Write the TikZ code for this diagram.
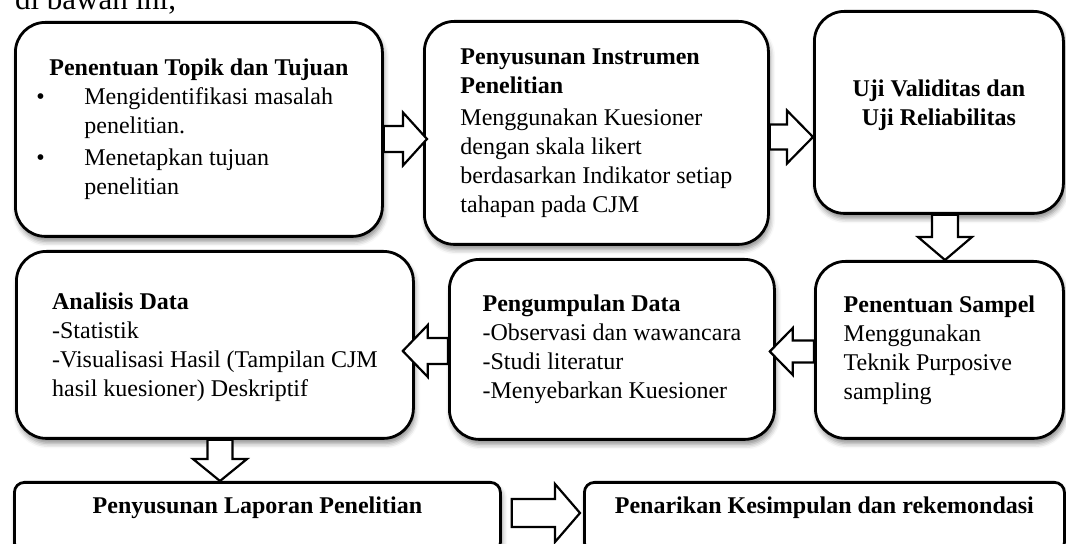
\documentclass[tikz,border=0pt]{standalone}
\usepackage{fontspec}
\setmainfont{Liberation Serif}
\usetikzlibrary{calc,shadows.blur}

\tikzset{
  box/.style={draw, line width=1.4pt, fill=white, rounded corners=15pt,
    anchor=north west, align=left, inner xsep=0pt,
    font=\fontsize{12}{14.5}\selectfont,
    blur shadow={shadow xshift=0.8pt, shadow yshift=-2.5pt,
      shadow blur radius=2.5pt, shadow opacity=45}},
  flatbox/.style={box, rounded corners=5pt},
  barrow/.style={draw, line width=1.1pt, fill=white, line join=miter},
}

% panah blok: dari, ke, setengah lebar batang, setengah lebar kepala, panjang kepala
\newcommand{\blockarrow}[5]{%
  \coordinate (hb) at ($(#2)!#5!(#1)$);
  \draw[barrow] ($(#1)!#3!90:(#2)$) -- ($(hb)!#3!90:(#2)$)
    -- ($(hb)!#4!90:(#2)$) -- (#2) -- ($(hb)!#4!-90:(#2)$)
    -- ($(hb)!#3!-90:(#2)$) -- ($(#1)!#3!-90:(#2)$) -- cycle;}

\begin{document}
\begin{tikzpicture}[x=0.5pt, y=-0.5pt]
  \useasboundingbox (0,0) rectangle (1066,544);
  \clip (0,0) rectangle (1066,544);

  \node[anchor=base west, font=\fontsize{15.5}{18}\selectfont] (intro) at (8,9.5) {di bawah ini,};

  % baris atas
  \node[box, minimum width=183.5pt, minimum height=107pt] (topik) at (14,21) {%
    \begin{tabular}{@{}p{24pt}@{}p{138.5pt}@{}}
      \multicolumn{2}{@{}c@{}}{\textbf{Penentuan Topik dan Tujuan}}\\
      \textbullet & Mengidentifikasi masalah\\
                  & penelitian.\\[1.5pt]
      \textbullet & Menetapkan tujuan\\
                  & penelitian
    \end{tabular}};
  \node[box, minimum width=172pt, minimum height=111.5pt] (instrumen) at (423,20) {%
    \textbf{Penyusunan Instrumen}\\ \textbf{Penelitian}\\[1.5pt]
    Menggunakan Kuesioner\\ dengan skala likert\\
    berdasarkan Indikator setiap\\ tahapan pada CJM};
  \node[box, align=center, minimum width=124.5pt, minimum height=101pt,
    text depth=9.75pt] (uji) at (813,10) {%
    \textbf{Uji Validitas dan}\\ \textbf{Uji Reliabilitas}};

  % baris tengah
  \node[box, minimum width=124pt, minimum height=88.5pt] (sampel) at (814,260) {%
    \textbf{Penentuan Sampel}\\ Menggunakan\\ Teknik Purposive\\ sampling};
  \node[box, minimum width=162.5pt, minimum height=90pt] (kumpul) at (448,258) {%
    \textbf{Pengumpulan Data}\\ -Observasi dan wawancara\\
    -Studi literatur\\ -Menyebarkan Kuesioner};
  \node[box, minimum width=198.5pt, minimum height=93.5pt, text depth=0pt] (analisis) at (15,250) {%
    \textbf{Analisis Data}\\ -Statistik\\
    -Visualisasi Hasil (Tampilan CJM\\ hasil kuesioner) Deskriptif};

  % baris bawah
  \node[flatbox, align=center, minimum width=243pt, minimum height=35pt,
    text depth=12pt] (laporan) at (13,481) {\textbf{Penyusunan Laporan Penelitian}};
  \node[flatbox, align=center, minimum width=240pt, minimum height=35pt,
    text depth=12pt] (penarikan) at (583,481) {\textbf{Penarikan Kesimpulan dan rekemondasi}};

  % panah
  \coordinate (a1s) at (topik.east |- 0,139);
  \coordinate (a1e) at ($(instrumen.west |- 0,139)+(4,0)$);
  \coordinate (a2s) at (instrumen.east |- 0,137);
  \coordinate (a2e) at (uji.west |- 0,137);
  \coordinate (a3s) at (uji.south -| 945,0);
  \coordinate (a3e) at (sampel.north -| 945,0);
  \coordinate (a4s) at (sampel.west |- 0,351.5);
  \coordinate (a4e) at ($(kumpul.east |- 0,351.5)+(-6,0)$);
  \coordinate (a5s) at (kumpul.west |- 0,351);
  \coordinate (a5e) at ($(analisis.east |- 0,351)+(-12,0)$);
  \coordinate (a6s) at (analisis.south -| 220,0);
  \coordinate (a6e) at (laporan.north -| 220,0);
  \coordinate (a7s) at ($(laporan.east |- 0,513)+(10,0)$);
  \coordinate (a7e) at ($(penarikan.west |- 0,513)+(-3,0)$);

  \blockarrow{a1s}{a1e}{6.5pt}{13.25pt}{12pt}
  \blockarrow{a2s}{a2e}{6.25pt}{13.25pt}{13pt}
  \blockarrow{a3s}{a3e}{6.5pt}{13.5pt}{11.5pt}
  \blockarrow{a4s}{a4e}{5.5pt}{11.75pt}{11.5pt}
  \blockarrow{a5s}{a5e}{6.5pt}{13pt}{12.5pt}
  \blockarrow{a6s}{a6e}{6.25pt}{13.5pt}{11pt}
  \blockarrow{a7s}{a7e}{7pt}{14.5pt}{12.5pt}
\end{tikzpicture}
\end{document}
